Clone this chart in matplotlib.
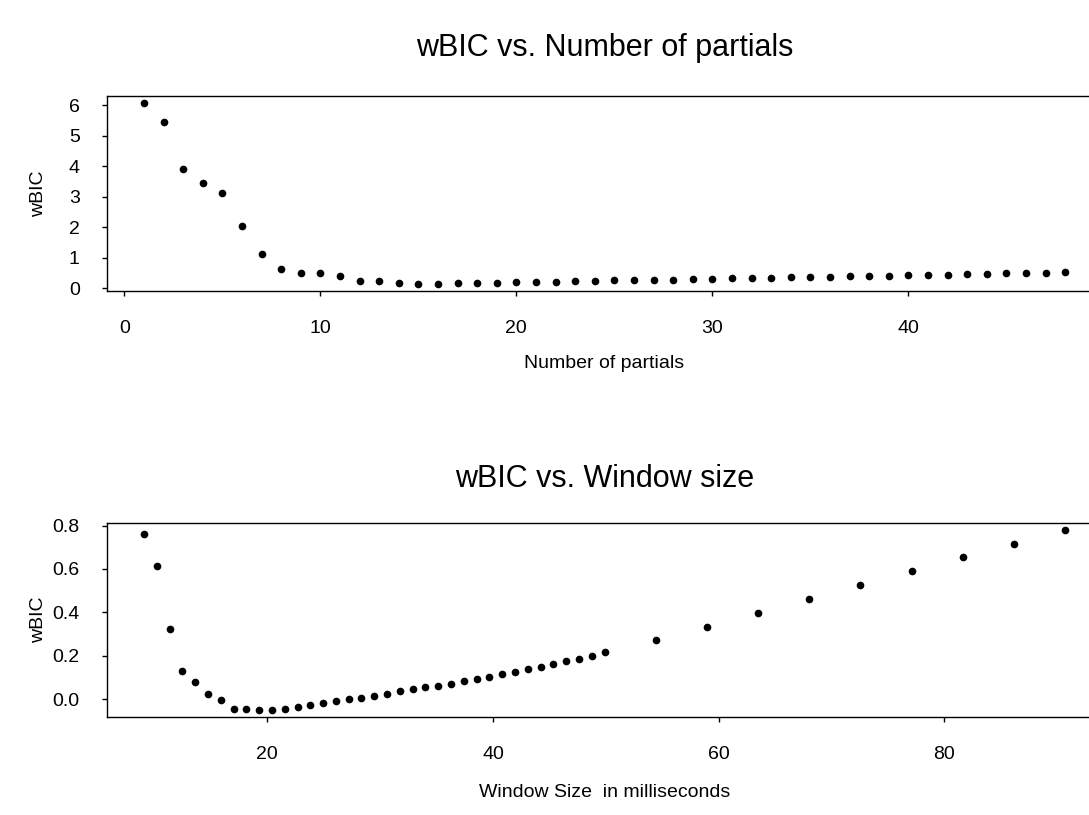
import matplotlib
matplotlib.use("Agg")
import matplotlib.pyplot as plt

plt.rcParams['font.family'] = ['Liberation Sans', 'DejaVu Sans']

# wBIC against number of partials
partials = list(range(1, 49))
wbic_partials = [6.07, 5.45, 3.90, 3.44, 3.11, 2.03, 1.11, 0.62, 0.49, 0.49,
                 0.39, 0.23, 0.23, 0.16, 0.14, 0.15, 0.16, 0.16, 0.17, 0.19,
                 0.20, 0.21, 0.23, 0.24, 0.25, 0.26, 0.27, 0.28, 0.30, 0.31,
                 0.32, 0.33, 0.34, 0.36, 0.37, 0.38, 0.39, 0.40, 0.41, 0.42,
                 0.43, 0.44, 0.46, 0.47, 0.48, 0.49, 0.50, 0.52]

# wBIC against window size (ms)
window_ms = [9.07, 10.20, 11.34, 12.47, 13.61, 14.74, 15.87, 17.01, 18.14, 19.27,
             20.41, 21.54, 22.68, 23.81, 24.94, 26.08, 27.21, 28.34, 29.48, 30.61,
             31.75, 32.88, 34.01, 35.15, 36.28, 37.41, 38.55, 39.68, 40.82, 41.95,
             43.08, 44.22, 45.35, 46.49, 47.62, 48.75, 49.89,
             54.42, 58.96, 63.49, 68.03, 72.56, 77.10, 81.63, 86.17, 90.70]
wbic_window = [0.762, 0.615, 0.326, 0.133, 0.078, 0.023, -0.004, -0.042, -0.045, -0.049,
               -0.049, -0.045, -0.037, -0.027, -0.017, -0.008, 0.000, 0.008, 0.018, 0.023,
               0.038, 0.047, 0.056, 0.064, 0.073, 0.084, 0.093, 0.105, 0.115, 0.125,
               0.139, 0.151, 0.162, 0.176, 0.188, 0.202, 0.216,
               0.275, 0.335, 0.399, 0.464, 0.528, 0.592, 0.656, 0.716, 0.780]

top_xticks = [0, 10, 20, 30, 40]
top_yticks = [0, 1, 2, 3, 4, 5, 6]
bot_xticks = [20, 40, 60, 80]
bot_yticks = [0.0, 0.2, 0.4, 0.6, 0.8]

fig = plt.figure(figsize=(10.89, 8.15), dpi=100)
ax1 = fig.add_axes([0.0983, 0.6429, 0.9137, 0.2393])
ax2 = fig.add_axes([0.0983, 0.1199, 0.9137, 0.2388])


def style(ax, title, xlabel, title_y, xlabel_y):
    ax.margins(x=0.04, y=0.04)
    ax.tick_params(direction='out', length=3.6, width=1, labelsize=14)
    ax.tick_params(axis='x', pad=17)
    ax.tick_params(axis='y', pad=16)
    for s in ax.spines.values():
        s.set_linewidth(1)
        s.set_color('black')
    ax.set_title(title, fontsize=22, y=title_y, va='center', pad=0)
    ax.set_xlabel(xlabel, fontsize=14, va='center')
    ax.set_ylabel('wBIC', fontsize=14, va='center')
    ax.xaxis.set_label_coords(0.5, xlabel_y)
    ax.yaxis.set_label_coords(-0.0693, 0.5)


ax1.plot(partials, wbic_partials, 'o', color='black', ms=4.5, ls='none')
ax1.set_xticks(top_xticks)
ax1.set_yticks(top_yticks)
style(ax1, 'wBIC vs. Number of partials', 'Number of partials', 1.246, -0.369)

ax2.plot(window_ms, wbic_window, 'o', color='black', ms=4.5, ls='none')
ax2.set_xticks(bot_xticks)
ax2.set_yticks(bot_yticks)
ax2.set_yticklabels([f'{v:.1f}' for v in bot_yticks])
style(ax2, 'wBIC vs. Window size', 'Window Size  in milliseconds', 1.2246, -0.389)

fig.savefig('out.png', dpi=100)
